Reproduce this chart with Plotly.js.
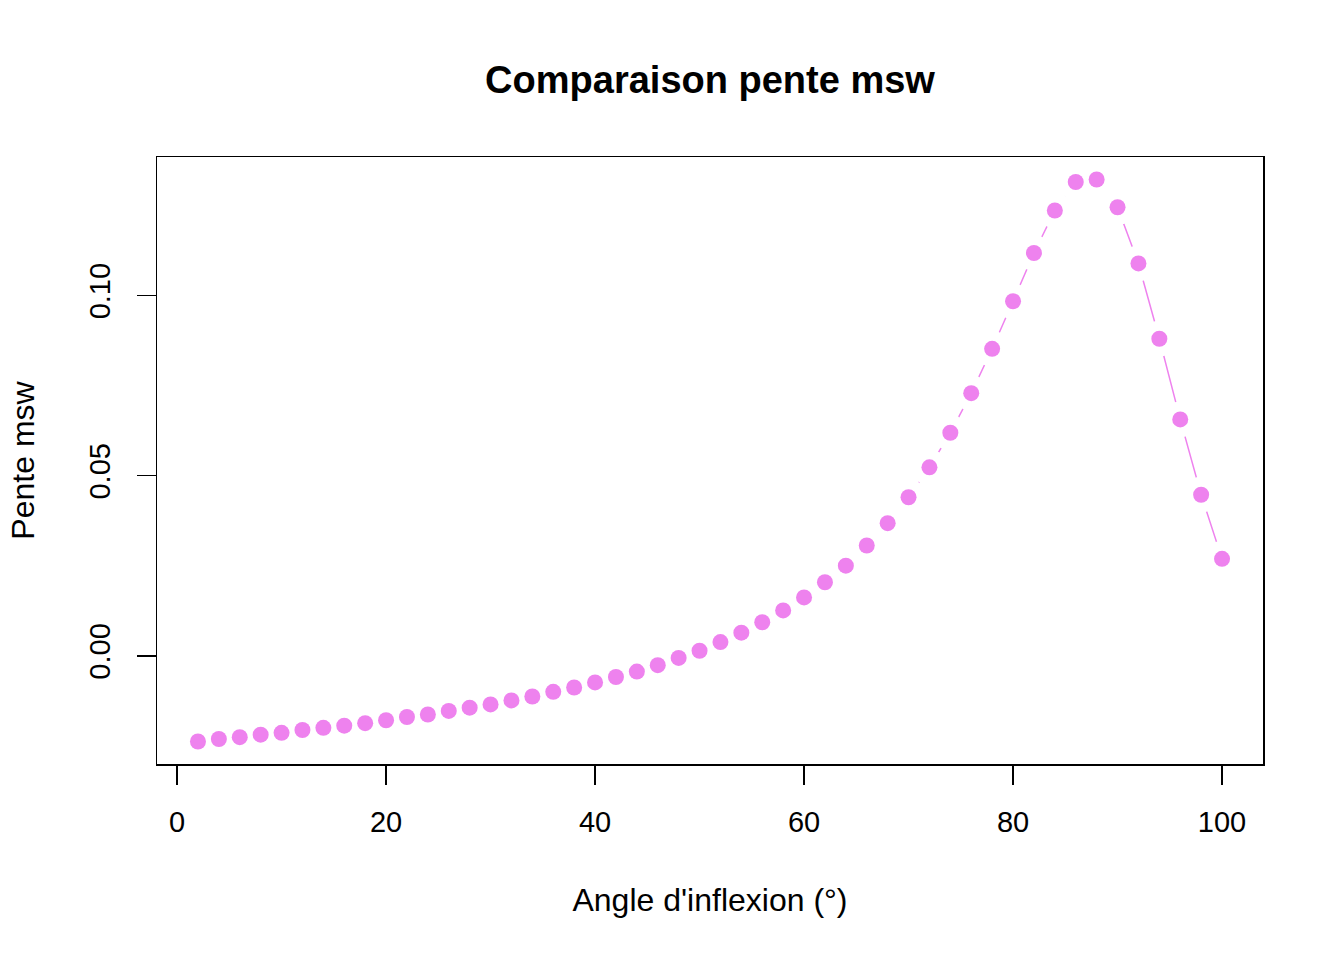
<!DOCTYPE html>
<html>
<head>
<meta charset="utf-8">
<script src="https://cdn.plot.ly/plotly-3.0.1.min.js"></script>
<style>html,body{margin:0;padding:0;background:#fff;}#chart{width:1344px;height:960px;}</style>
</head>
<body>
<div id="chart"></div>
<script>
const angles = [2,4,6,8,10,12,14,16,18,20,22,24,26,28,30,32,34,36,38,40,42,44,46,48,50,52,54,56,58,60,62,64,66,68,70,72,74,76,78,80,82,84,86,88,90,92,94,96,98,100];
const pente = [-0.0238,-0.0231,-0.0226,-0.0219,-0.0214,-0.0206,-0.0200,-0.0194,-0.0187,-0.0179,
  -0.0170,-0.0163,-0.0153,-0.0144,-0.0135,-0.0124,-0.0113,-0.0100,-0.0088,-0.0074,
  -0.0059,-0.0044,-0.0026,-0.0006,0.0014,0.0038,0.0064,0.0093,0.0126,0.0162,
  0.0204,0.0250,0.0306,0.0368,0.0440,0.0523,0.0619,0.0729,0.0852,0.0984,
  0.1118,0.1236,0.1315,0.1322,0.1245,0.1089,0.0880,0.0656,0.0447,0.0269];
const xTicks = [0,20,40,60,80,100];
const yTicks = [0.00,0.05,0.10];
const yTickLabels = ["0.00","0.05","0.10"];
const titleText = "Comparaison pente msw";
const xTitle = "Angle d'inflexion (°)";
const yTitle = "Pente msw";

const col = "#EE82EE";
const font = "Liberation Sans, Arial, Helvetica, sans-serif";

const xmin = Math.min(...angles), xmax = Math.max(...angles);
const ymin = Math.min(...pente), ymax = Math.max(...pente);
const xr = [xmin - 0.04*(xmax-xmin), xmax + 0.04*(xmax-xmin)];
const yr = [ymin - 0.04*(ymax-ymin), ymax + 0.04*(ymax-ymin)];

const traces = [
  {x: angles, y: pente, mode: "lines", line: {color: col, width: 1.5}, hoverinfo: "skip", showlegend: false},
  {x: angles, y: pente, mode: "markers", marker: {color: "#ffffff", size: 36}, hoverinfo: "skip", showlegend: false},
  {x: angles, y: pente, mode: "markers", marker: {color: col, size: 16}, showlegend: false}
];

const layout = {
  width: 1344, height: 960,
  paper_bgcolor: "#ffffff", plot_bgcolor: "#ffffff",
  margin: {l: 157, r: 81, t: 157, b: 196},
  font: {family: font, color: "#000000"},
  showlegend: false,
  title: {text: titleText, font: {family: font, size: 38, weight: "bold", color: "#000"},
          x: 710/1344, xref: "container", xanchor: "center", y: 1 - 80/960, yref: "container", yanchor: "middle"},
  xaxis: {range: xr, tickvals: xTicks, ticktext: xTicks.map(String), ticks: "outside", ticklen: 19, tickwidth: 1.5, tickcolor: "#000",
          showline: true, linecolor: "#000", linewidth: 1.5, mirror: true, showgrid: false, zeroline: false,
          tickfont: {size: 29, family: font, color: "#000"}, ticklabelstandoff: 13,
          title: {text: xTitle, font: {size: 32, family: font, color: "#000"}, standoff: 51}},
  yaxis: {range: yr, tickvals: yTicks, ticktext: yTickLabels, ticks: "outside", ticklen: 19, tickwidth: 1.5, tickcolor: "#000",
          showline: true, linecolor: "#000", linewidth: 1.5, mirror: true, showgrid: false, zeroline: false,
          tickangle: -90, tickfont: {size: 29, family: font, color: "#000"}, ticklabelstandoff: 15,
          title: {text: yTitle, font: {size: 32, family: font, color: "#000"}, standoff: 39}}
};

Plotly.newPlot("chart", traces, layout, {displayModeBar: false, staticPlot: true});
</script>
</body>
</html>
